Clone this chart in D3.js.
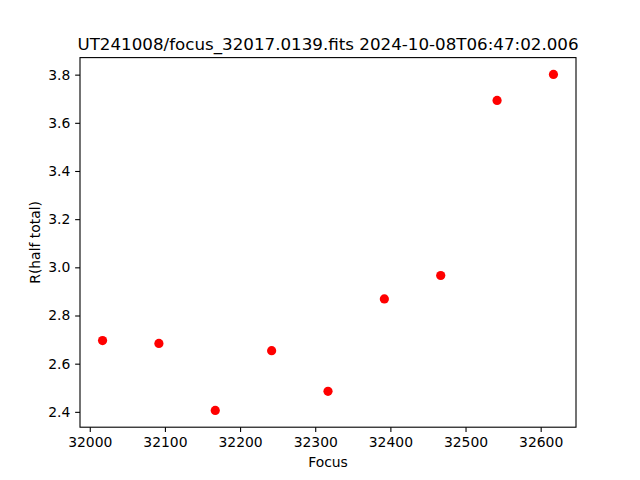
<!DOCTYPE html>
<html>
<head>
<meta charset="utf-8">
<script src="https://cdn.jsdelivr.net/npm/d3@7"></script>
<style>
  body { margin: 0; background: #fff; }
  text { font-family: "DejaVu Sans", sans-serif; fill: #000; }
</style>
</head>
<body>
<div id="chart"></div>
<script>
// focus positions and measured radius
const focusValues = [32017, 32092, 32167, 32242, 32317, 32392, 32467, 32542, 32617];
const radiusValues = [2.696, 2.684, 2.406, 2.654, 2.485, 2.869, 2.966, 3.693, 3.801];
const xTicks = [32000, 32100, 32200, 32300, 32400, 32500, 32600];
const yTicks = [2.4, 2.6, 2.8, 3.0, 3.2, 3.4, 3.6, 3.8];
const chartTitle = "UT241008/focus_32017.0139.fits 2024-10-08T06:47:02.006";

const W = 640, H = 480;
const margin = {top: 57.6, right: 64, bottom: 52.8, left: 80};
const width = W - margin.left - margin.right;
const height = H - margin.top - margin.bottom;

const svg = d3.select("#chart").append("svg")
    .attr("width", W)
    .attr("height", H);

const g = svg.append("g")
    .attr("transform", `translate(${margin.left},${margin.top})`);

// matplotlib style 5% padding
function padded(vals) {
    let lo = d3.min(vals), hi = d3.max(vals);
    let pad = (hi - lo) * 0.05;
    return [lo - pad, hi + pad];
}

const x = d3.scaleLinear().domain(padded(focusValues)).range([0, width]);
const y = d3.scaleLinear().domain(padded(radiusValues)).range([height, 0]);

// points
g.selectAll(".dot")
    .data(focusValues.map((f, i) => ({f: f, r: radiusValues[i]})))
    .enter()
    .append("circle")
    .attr("class", "dot")
    .attr("cx", d => x(d.f))
    .attr("cy", d => y(d.r))
    .attr("r", 4.6)
    .attr("fill", "#ff0000");

// axes
const xAxis = g.append("g")
    .attr("transform", `translate(0,${height})`)
    .call(d3.axisBottom(x).tickValues(xTicks).tickFormat(d3.format("d")).tickSize(4.86).tickPadding(4.9));
const yAxis = g.append("g")
    .call(d3.axisLeft(y).tickValues(yTicks).tickFormat(d3.format(".1f")).tickSize(4.86).tickPadding(4.9));

[xAxis, yAxis].forEach(a => {
    a.select(".domain").remove();
    a.selectAll(".tick line").attr("stroke", "#000").attr("stroke-width", 1.1);
    a.selectAll(".tick text").style("font-size", "13.9px").attr("fill", "#000");
});

// frame
g.append("rect")
    .attr("width", width)
    .attr("height", height)
    .attr("fill", "none")
    .attr("stroke", "#000")
    .attr("stroke-width", 1.1);

// labels
g.append("text")
    .attr("x", width / 2)
    .attr("y", -8)
    .attr("text-anchor", "middle")
    .style("font-size", "16.7px")
    .text(chartTitle);

g.append("text")
    .attr("x", width / 2)
    .attr("y", height + 40)
    .attr("text-anchor", "middle")
    .style("font-size", "13.9px")
    .text("Focus");

g.append("text")
    .attr("transform", "rotate(-90)")
    .attr("x", -height / 2)
    .attr("y", -40)
    .attr("text-anchor", "middle")
    .style("font-size", "13.9px")
    .text("R(half total)");
</script>
</body>
</html>
